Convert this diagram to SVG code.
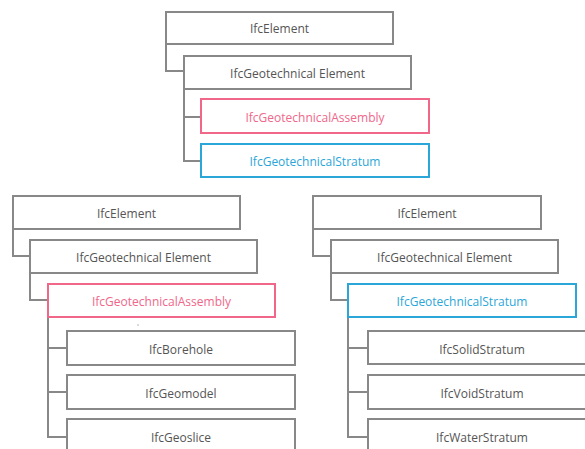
<svg xmlns="http://www.w3.org/2000/svg" width="585" height="449" viewBox="0 0 585 449">
<style>
rect{fill:#fff;stroke-width:2}
.g{stroke:#888}
.p{stroke:#f0678a}
.b{stroke:#2ba6d9}
text{font-family:"Open Sans","Noto Sans",sans-serif;font-size:12px;text-anchor:middle;dominant-baseline:central;fill:#555}
text.p{fill:#f0678a;stroke:none}
text.b{fill:#2ba6d9;stroke:none}
#connectors path{fill:none;stroke:#888;stroke-width:2}
</style>
<rect x="0" y="0" width="585" height="449" style="fill:#fff;stroke:none"/>
<g id="connectors">
<path d="M166,44V71H184"/>
<path d="M184,89V161H201M184,117H201"/>
<path d="M13,229V256H30"/>
<path d="M30,273V300H48"/>
<path d="M48,317V437H67M48,348H67M48,392H67"/>
<path d="M313,229V256H331"/>
<path d="M331,273V300H348"/>
<path d="M348,317V437H368M348,348H368M348,392H368"/>
</g>
<g id="top-element"><rect class="g" x="166" y="12" width="227" height="32"/><text x="279.5" y="28.5">IfcElement</text></g>
<g id="top-geo-element"><rect class="g" x="184" y="56" width="227" height="33"/><text x="297.5" y="73">IfcGeotechnical Element</text></g>
<g id="top-assembly"><rect class="p" x="201" y="99" width="228" height="34"/><text class="p" x="315" y="117">IfcGeotechnicalAssembly</text></g>
<g id="top-stratum"><rect class="b" x="201" y="144" width="228" height="33"/><text class="b" x="315" y="161">IfcGeotechnicalStratum</text></g>

<g id="left-element"><rect class="g" x="13" y="196" width="227" height="33"/><text x="126.5" y="213">IfcElement</text></g>
<g id="left-geo-element"><rect class="g" x="30" y="240" width="227" height="33"/><text x="143.5" y="257">IfcGeotechnical Element</text></g>
<g id="left-assembly"><rect class="p" x="48" y="284" width="227" height="33"/><text class="p" x="161.5" y="301">IfcGeotechnicalAssembly</text></g>
<circle cx="138" cy="325" r="0.7" fill="#999"/>
<g id="borehole"><rect class="g" x="67" y="331" width="228" height="34"/><text x="181" y="349">IfcBorehole</text></g>
<g id="geomodel"><rect class="g" x="67" y="375" width="228" height="34"/><text x="181" y="393">IfcGeomodel</text></g>
<g id="geoslice"><rect class="g" x="67" y="419" width="228" height="40"/><text x="181" y="437">IfcGeoslice</text></g>

<g id="right-element"><rect class="g" x="313" y="196" width="228" height="33"/><text x="427" y="213">IfcElement</text></g>
<g id="right-geo-element"><rect class="g" x="331" y="240" width="227" height="33"/><text x="444.5" y="257">IfcGeotechnical Element</text></g>
<g id="right-stratum"><rect class="b" x="348" y="284" width="228" height="33"/><text class="b" x="462" y="301">IfcGeotechnicalStratum</text></g>
<g id="solid"><rect class="g" x="368" y="331" width="228" height="33"/><text x="482" y="349">IfcSolidStratum</text></g>
<g id="void"><rect class="g" x="368" y="375" width="228" height="34"/><text x="482" y="393">IfcVoidStratum</text></g>
<g id="water"><rect class="g" x="368" y="419" width="228" height="40"/><text x="482" y="437">IfcWaterStratum</text></g>
</svg>
